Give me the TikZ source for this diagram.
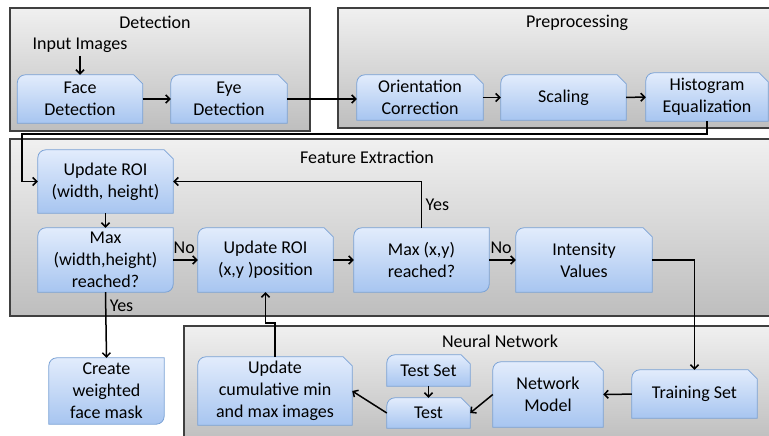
\documentclass[tikz,border=0pt]{standalone}
\usepackage{fontspec}
\setmainfont{Carlito}
\usetikzlibrary{arrows.meta}
\definecolor{boxtop}{HTML}{E2ECFC}
\definecolor{boxbot}{HTML}{A7C5F0}
\definecolor{boxline}{HTML}{7AA2D6}
\definecolor{paneltop}{HTML}{F0F0F0}
\definecolor{panelbot}{HTML}{BEBEBE}
\definecolor{panelline}{HTML}{404040}
\pgfdeclarelayer{panel}
\pgfdeclarelayer{boxback}
\pgfsetlayers{panel,boxback,main}
% box outlines: snipped top right corner, or rounded diagonal corners
\newcommand{\snipshape}[1]{%
  \shadedraw[boxfill] (#1.south west) -- ([yshift=-8pt]#1.north west)
    arc[start angle=180, end angle=90, radius=8pt] -- ([xshift=-9pt]#1.north east)
    -- ([yshift=-9pt]#1.north east) -- (#1.south east) -- cycle;}
\newcommand{\rdiagshape}[1]{%
  \shadedraw[boxfill] (#1.south west) -- ([yshift=-8pt]#1.north west)
    arc[start angle=180, end angle=90, radius=8pt] -- (#1.north east)
    -- ([yshift=8pt]#1.south east) arc[start angle=0, end angle=-90, radius=8pt] -- cycle;}

\begin{document}
\begin{tikzpicture}[x=1pt, y=-1pt, font=\fontsize{18}{22}\selectfont,
    stepbox/.style={rectangle, inner sep=1pt, align=center},
    boxfill/.style={top color=boxtop, bottom color=boxbot, draw=boxline, line width=0.8pt},
    panelfill/.style={top color=paneltop, bottom color=panelbot, draw=panelline, line width=1.2pt},
    flow/.style={-{Straight Barb[length=4pt,width=8pt]}, line width=1.5pt}]
  \useasboundingbox (0,0) rectangle (769,436);

  % panels
  \begin{pgfonlayer}{panel}
    \fill[white] (0,0) rectangle (769,436);
    \shadedraw[panelfill] (10,8) rectangle (310,131);
    \shadedraw[panelfill] (338,8) rectangle (776,128);
    \shadedraw[panelfill] (10,139) rectangle (776,316);
    \shadedraw[panelfill] (184,326) rectangle (776,442);
  \end{pgfonlayer}
  \node (dettitle) at (155,22) {Detection};
  \node (pretitle) at (577,23) {Preprocessing};
  \node (feattitle) at (367,157) {Feature Extraction};
  \node (nntitle) at (500,341) {Neural Network};

  % detection and preprocessing
  \node (input) at (80,45) {Input Images};
  \node[stepbox, minimum width=125pt, minimum height=48pt] (face) at (80,99) {Face\\Detection};
  \node[stepbox, minimum width=116pt, minimum height=48pt] (eye) at (229,99) {Eye\\Detection};
  \node[stepbox, minimum width=126pt, minimum height=45pt] (orient) at (420,97.5) {Orientation\\Correction};
  \node[stepbox, minimum width=125pt, minimum height=45pt] (scale) at (563.5,97.5) {Scaling};
  \node[stepbox, minimum width=122pt, minimum height=48pt] (hist) at (707,97) {Histogram\\Equalization};

  % feature extraction
  \node[stepbox, minimum width=135pt, minimum height=63pt] (roiwh) at (105.5,181.5) {Update ROI\\(width, height)};
  \node[stepbox, minimum width=135pt, minimum height=64pt] (maxwh) at (105.5,260) {Max\\(width,height)\\reached?};
  \node[stepbox, minimum width=135pt, minimum height=64pt] (roixy) at (265.5,260) {Update ROI\\(x,y )position};
  \node[stepbox, minimum width=135pt, minimum height=64pt] (maxxy) at (421.5,260) {Max (x,y)\\reached?};
  \node[stepbox, minimum width=136pt, minimum height=64pt] (intens) at (584,260) {Intensity\\Values};
  \node[stepbox, minimum width=115pt, minimum height=66pt] (mask) at (106.5,391) {Create\\weighted\\face mask};

  % neural network
  \node[stepbox, minimum width=154pt, minimum height=68pt] (cumul) at (275,391) {Update\\cumulative min\\and max images};
  \node[stepbox, minimum width=83pt, minimum height=31pt] (testset) at (428.5,370.5) {Test Set};
  \node[stepbox, minimum width=83pt, minimum height=30pt] (test) at (428.5,413) {Test};
  \node[stepbox, minimum width=110pt, minimum height=65pt] (netmodel) at (548,394.5) {Network\\Model};
  \node[stepbox, minimum width=125pt, minimum height=48pt] (trainset) at (694.5,394) {Training Set};

  \begin{pgfonlayer}{boxback}
    \foreach \b in {face,eye,orient,scale,hist,roiwh,roixy,intens,cumul,testset,test,netmodel,trainset}
      {\snipshape{\b}}
    \foreach \b in {maxwh,maxxy,mask}
      {\rdiagshape{\b}}
  \end{pgfonlayer}

  % connectors
  \coordinate (loop) at (22,134);
  \draw[flow] (input) -- (face);
  \draw[flow] (face) -- (eye);
  \draw[flow] (eye.east) -- (eye.east -| orient.west);
  \draw[flow] (orient) -- (scale);
  \draw[flow] (scale) -- (hist);
  \draw[flow] (hist.south) |- (loop) |- (roiwh.west);
  \draw[flow] (roiwh) -- (maxwh);
  \draw[flow] (maxwh) -- node[above=2pt, pos=0.45] {No} (roixy);
  \draw[flow] (roixy) -- (maxxy);
  \draw[flow] (maxxy) -- node[above=2pt, pos=0.45] {No} (intens);
  \draw[flow] (maxxy.north) |- node[pos=0.25, right] {Yes} (roiwh.east);
  \draw[flow] (maxwh.south) -- node[pos=0.21, right] {Yes} (mask.north);
  \draw[flow] (intens.east) -| (trainset.north);
  \draw[flow] (trainset) -- (netmodel);
  \draw[flow] (netmodel.west) -- (test.east);
  \draw[flow] (testset) -- (test);
  \draw[flow] (test.west) -- (cumul.east);
  \draw[flow] (cumul.north) -- ++(0,-34) -| (roixy.south);
\end{tikzpicture}
\end{document}
